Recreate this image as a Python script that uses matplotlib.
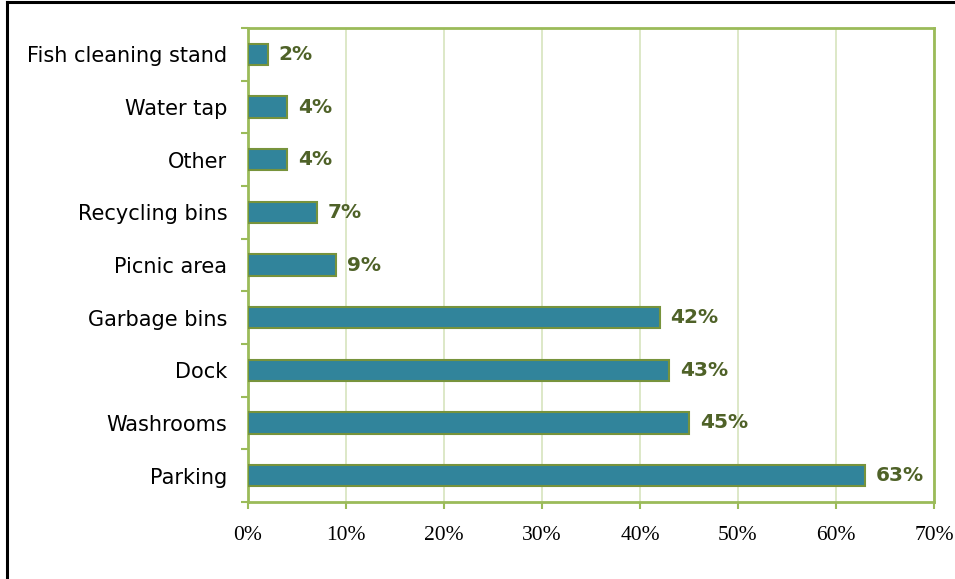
import numpy as np
from matplotlib import pyplot as plt
from matplotlib.lines import Line2D

## Amenities people said they use, share of respondents (%)
amenities = ['Parking', 'Washrooms', 'Dock', 'Garbage bins', 'Picnic area',
             'Recycling bins', 'Other', 'Water tap', 'Fish cleaning stand']
shares = [63, 45, 43, 42, 9, 7, 4, 4, 2]
xticks = [0, 10, 20, 30, 40, 50, 60, 70]

barcol = '#31849B'
edgecol = '#77933C'
spinecol = '#9BBB59'
gridcol = '#D7E4BD'
labcol = '#4F6228'

fig = plt.figure(figsize=(9.55, 5.79), dpi=100)
ax = fig.add_axes([0.2597, 0.133, 0.978 - 0.2597, 0.9516 - 0.133])

y = np.arange(len(amenities))
ax.barh(y, shares, height=0.4, color=barcol, edgecolor=edgecol, linewidth=1.5, zorder=3)

for yi, v in zip(y, shares):
    ax.text(v + 1.1, yi, '%d%%' % v, va='center', ha='left', fontsize=14.5,
            fontweight='bold', color=labcol, zorder=4)

ax.set_xlim(0, 70)
ax.set_ylim(-0.5, len(amenities) - 0.5)
ax.set_xticks(xticks)
ax.set_xticklabels(['%d%%' % t for t in xticks], fontsize=15.5, family='Liberation Serif')
ax.set_yticks(y)
ax.set_yticklabels(amenities, fontsize=15)
# tick marks sit between categories, labels at the centres
ax.set_yticks(np.arange(-0.5, len(amenities), 1.0), minor=True)
ax.tick_params(axis='y', which='major', length=0, pad=15)
ax.tick_params(axis='y', which='minor', length=5, width=1.5, color=spinecol)
ax.tick_params(axis='x', length=5, width=1.5, color=spinecol, pad=12)

ax.grid(axis='x', color=gridcol, linewidth=1.2, zorder=0)
for s in ax.spines.values():
    s.set_color(spinecol)
    s.set_linewidth(2)

# black frame on the left and top
fig.add_artist(Line2D([7 / 955, 7 / 955], [0, 1 - 2 / 579], color='black', lw=2.2,
                      transform=fig.transFigure))
fig.add_artist(Line2D([7 / 955, 1], [1 - 2 / 579, 1 - 2 / 579], color='black', lw=2.2,
                      transform=fig.transFigure))

fig.savefig('out.png', dpi=100)
